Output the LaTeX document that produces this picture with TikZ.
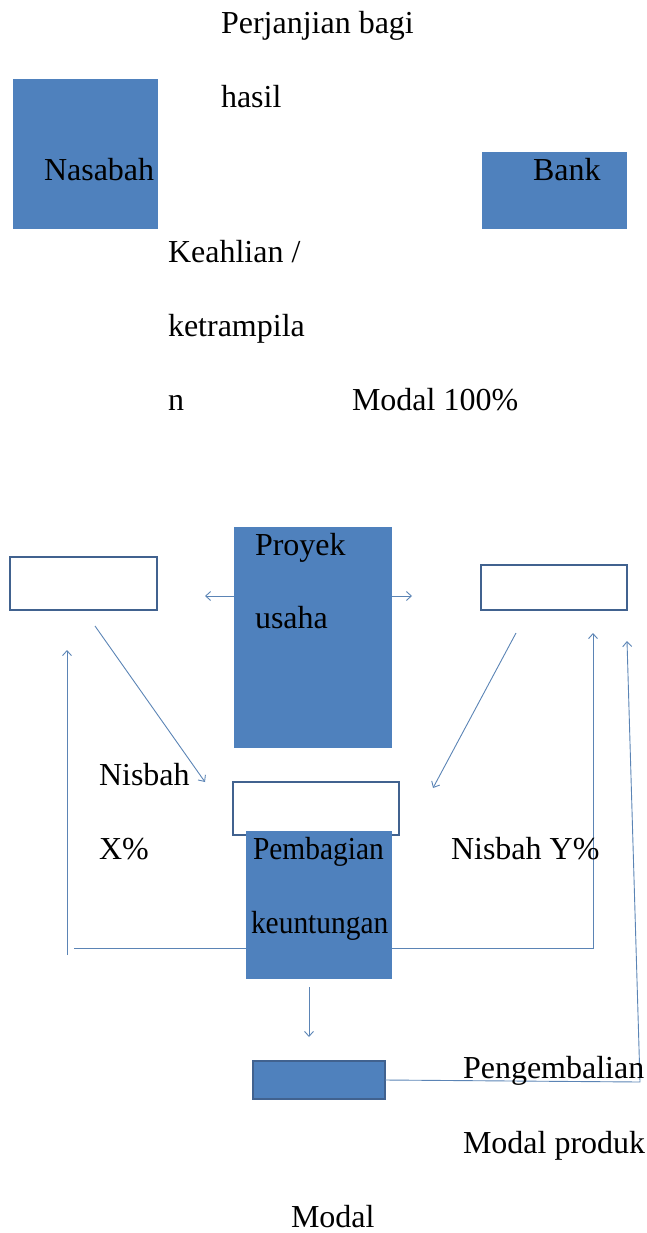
\documentclass[tikz,border=0pt]{standalone}
\usepackage{fontspec}
\setmainfont{Liberation Serif}
\newfontfamily\narrowserif[FakeStretch=0.92]{Liberation Serif}
\usetikzlibrary{arrows.meta}
\definecolor{boxblue}{HTML}{4F81BD}
\definecolor{edgeblue}{HTML}{41628F}
\definecolor{linkblue}{HTML}{5B84B5}
\begin{document}
\begin{tikzpicture}[x=1pt,y=-1pt,
  fillbox/.style={fill=boxblue, draw=none, inner sep=0pt, outer sep=0pt, anchor=north west},
  openbox/.style={draw=edgeblue, line width=2pt, fill=white, inner sep=0pt, outer sep=0pt, anchor=north west},
  lbl/.style={anchor=base west, inner sep=0pt, outer sep=0pt, font=\fontsize{32}{38}\selectfont},
  nlbl/.style={anchor=base west, inner sep=0pt, outer sep=0pt, font=\fontsize{32}{38}\narrowserif},
  link/.style={draw=linkblue, line width=0.9pt, -{Straight Barb[length=5pt,width=9pt]}},
  plainlink/.style={draw=linkblue, line width=0.9pt}]
\useasboundingbox (0,0) rectangle (646,1233);

% boxes
\node[fillbox, minimum width=145pt, minimum height=150pt] (nasabah) at (13,79) {};
\node[fillbox, minimum width=145pt, minimum height=77pt] (bank) at (482,152) {};
\node[openbox, minimum width=147pt, minimum height=53pt] (leftbox) at (10,557) {};
\node[fillbox, minimum width=158pt, minimum height=221pt] (proyek) at (234,527) {};
\node[openbox, minimum width=146pt, minimum height=45pt] (rightbox) at (481,565) {};
\node[openbox, minimum width=166pt, minimum height=53pt] (midbox) at (233,782) {};
\node[fillbox, minimum width=146pt, minimum height=148pt] (bagi) at (246,831) {};
\node[fillbox, draw=edgeblue, line width=2pt, minimum width=132pt, minimum height=38pt] (modalbox) at (253,1061) {};

% coordinates for free ends
\coordinate (pl) at (205,596);
\coordinate (pr) at (412,596);
\coordinate (dla) at (95,626);
\coordinate (dlb) at (205,782);
\coordinate (dra) at (516,633);
\coordinate (drb) at (433,788);
\coordinate (fl1) at (74,948);
\coordinate (fl2) at (67,955);
\coordinate (fl3) at (67,650);
\coordinate (fr1) at (593,948);
\coordinate (fr2) at (593,633);
\coordinate (dn1) at (309,987);
\coordinate (dn2) at (309,1037);
\coordinate (br1) at (640,1082);
\coordinate (br2) at (627,641);

% connectors
\draw[link] (proyek.west |- pl) -- (pl);
\draw[link] (proyek.east |- pr) -- (pr);
\draw[link] (dla) -- (dlb);
\draw[link] (dra) -- (drb);
\draw[plainlink] (bagi.west |- fl1) -- (fl1);
\draw[link] (fl2) -- (fl3);
\draw[link] (bagi.east |- fr1) -- (fr1) -- (fr2);
\draw[link] (dn1) -- (dn2);
\draw[link] (modalbox.east) -- (br1) -- (br2);

% labels
\node[lbl] (t1) at (221,34) {Perjanjian bagi};
\node[lbl] (t2) at (221,108) {hasil};
\node[lbl] (t3) at (44,181) {Nasabah};
\node[lbl] (t4) at (533,181) {Bank};
\node[lbl] (t5) at (168,262) {Keahlian /};
\node[lbl] (t6) at (168,336) {ketrampila};
\node[lbl] (t7) at (168,410) {n};
\node[lbl] (t8) at (352,410) {Modal 100\%};
\node[lbl] (t9) at (255,555) {Proyek};
\node[lbl] (t10) at (255,628) {usaha};
\node[lbl] (t11) at (99,785) {Nisbah};
\node[lbl] (t12) at (99,859) {X\%};
\node[nlbl] (t13) at (253,859) {Pembagian};
\node[nlbl] (t14) at (251,933) {keuntungan};
\node[lbl] (t15) at (451,859) {Nisbah Y\%};
\node[lbl] (t16) at (463,1078) {Pengembalian};
\node[lbl] (t17) at (463,1153) {Modal produk};
\node[lbl] (t18) at (291,1227) {Modal};
\end{tikzpicture}
\end{document}
